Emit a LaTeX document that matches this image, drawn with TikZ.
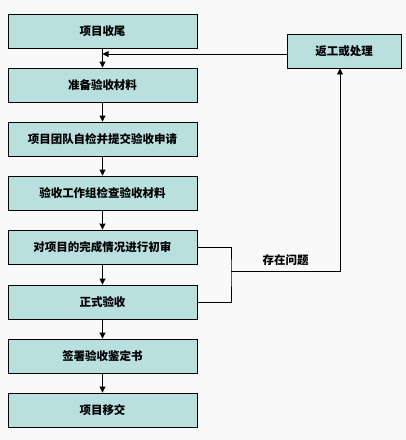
\documentclass[tikz,border=0pt]{standalone}
\usepackage{fontspec}
\setmainfont{Noto Sans CJK SC}
\usetikzlibrary{arrows.meta}
\definecolor{boxfill}{HTML}{B9DFDF}
\definecolor{bgfill}{HTML}{F9F9F9}

\begin{document}
\begin{tikzpicture}[x=1pt,y=-1pt,
    font=\bfseries\fontsize{11.5}{13}\selectfont,
    stepbox/.style={draw, fill=boxfill, line width=0.9pt, inner sep=0pt,
                    minimum width=189pt, minimum height=34pt},
    flow/.style={-{Triangle[length=6pt,width=6pt]}, line width=0.9pt}]
    \fill[bgfill] (0,0) rectangle (406,440);
    \useasboundingbox (0,0) rectangle (406,440);

    \node[stepbox] (s1) at (102.5,31) {项目收尾};
    \node[stepbox] (s2) at (102.5,85) {准备验收材料};
    \node[stepbox] (s3) at (102.5,139) {项目团队自检并提交验收申请};
    \node[stepbox] (s4) at (102.5,193) {验收工作组检查验收材料};
    \node[stepbox] (s5) at (102.5,247) {对项目的完成情况进行初审};
    \node[stepbox] (s6) at (102.5,302) {正式验收};
    \node[stepbox] (s7) at (102.5,356) {签署验收鉴定书};
    \node[stepbox] (s8) at (102.5,410) {项目移交};
    \node[stepbox, minimum width=114pt] (fix) at (344,51) {返工或处理};

    \draw[flow] (s1) -- (s2);
    \draw[flow] (s2) -- (s3);
    \draw[flow] (s3) -- (s4);
    \draw[flow] (s4) -- (s5);
    \draw[flow] (s5) -- (s6);
    \draw[flow] (s6) -- (s7);
    \draw[flow] (s7) -- (s8);

    % problem found -> rework
    \coordinate (mid) at (231,271);
    \coordinate (up) at ([xshift=-4pt]fix.south);
    \draw[line width=0.9pt] (s5.east) -| (mid) |- (s6.east);
    \draw[flow] (mid) -| (up) node[pos=0.25, above, inner sep=5pt] {存在问题};
    \coordinate (back) at ([yshift=-3pt]fix.west);
    \draw[flow] (back) -- (s1.south |- back);
\end{tikzpicture}
\end{document}
